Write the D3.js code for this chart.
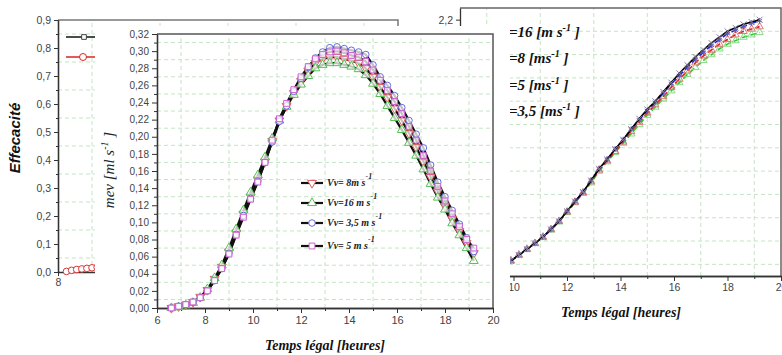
<!DOCTYPE html>
<html>
<head>
<meta charset="utf-8">
<script src="https://cdn.jsdelivr.net/npm/d3@7"></script>
<style>
body { margin: 0; background: #fff; }
svg { display: block; font-family: Arial, "Liberation Sans", sans-serif; }
</style>
</head>
<body>
<svg width="782" height="355"></svg>
<script>
// ---- back chart (Effecacité) ----
const leftTimes = [8.25, 8.4, 8.55, 8.7, 8.85, 9.0, 9.15];
const leftEff = [0.002, 0.006, 0.009, 0.011, 0.013, 0.015, 0.017];
const leftYTicks = [0, 0.1, 0.2, 0.3, 0.4, 0.5, 0.6, 0.7, 0.8, 0.9];
const leftXTicks = [8, 10, 12, 14, 16, 18];

// ---- middle chart (mev) ----
const midTimes = [6.6, 6.9, 7.2, 7.5, 7.8, 8.1, 8.4, 8.7, 9.0, 9.3, 9.6, 9.9, 10.2, 10.5, 10.8, 11.1, 11.4, 11.7, 12.0, 12.3,
  12.6, 12.9, 13.2, 13.5, 13.8, 14.1, 14.4, 14.7, 15.0, 15.3, 15.6, 15.9, 16.2, 16.5, 16.8, 17.1, 17.4, 17.7, 18.0, 18.3, 18.6, 18.9, 19.2];
const midV8 = [0.000, 0.002, 0.004, 0.007, 0.013, 0.021, 0.034, 0.048, 0.066, 0.088, 0.110, 0.130, 0.150, 0.171, 0.195, 0.219, 0.236, 0.251, 0.265, 0.277,
  0.286, 0.291, 0.293, 0.293, 0.291, 0.289, 0.286, 0.280, 0.270, 0.258, 0.246, 0.233, 0.219, 0.204, 0.188, 0.171, 0.153, 0.136, 0.119, 0.104, 0.090, 0.076, 0.064];
const midV16 = [0.000, 0.001, 0.003, 0.006, 0.012, 0.022, 0.035, 0.050, 0.070, 0.092, 0.114, 0.135, 0.155, 0.176, 0.198, 0.219, 0.235, 0.249, 0.261, 0.271,
  0.280, 0.284, 0.286, 0.286, 0.284, 0.282, 0.279, 0.272, 0.262, 0.250, 0.236, 0.222, 0.208, 0.193, 0.178, 0.162, 0.145, 0.129, 0.115, 0.099, 0.085, 0.070, 0.055];
const midV35 = [0.000, 0.002, 0.004, 0.007, 0.012, 0.020, 0.032, 0.046, 0.064, 0.086, 0.108, 0.128, 0.148, 0.170, 0.194, 0.218, 0.236, 0.253, 0.268, 0.281,
  0.292, 0.299, 0.304, 0.305, 0.303, 0.301, 0.299, 0.296, 0.284, 0.270, 0.260, 0.248, 0.234, 0.219, 0.203, 0.187, 0.167, 0.147, 0.130, 0.114, 0.098, 0.082, 0.066];
const midV5 = [0.000, 0.002, 0.004, 0.007, 0.012, 0.020, 0.032, 0.046, 0.063, 0.085, 0.106, 0.127, 0.147, 0.170, 0.196, 0.221, 0.239, 0.255, 0.270, 0.282,
  0.291, 0.296, 0.299, 0.300, 0.298, 0.295, 0.293, 0.288, 0.278, 0.266, 0.254, 0.241, 0.227, 0.212, 0.196, 0.178, 0.160, 0.142, 0.125, 0.110, 0.095, 0.080, 0.070];
const midLegend = ["Vv= 8m s", "Vv=16 m s", "Vv= 3,5 m s", "Vv= 5 m s"];
const midYTicks = [0, 0.02, 0.04, 0.06, 0.08, 0.10, 0.12, 0.14, 0.16, 0.18, 0.20, 0.22, 0.24, 0.26, 0.28, 0.30, 0.32];
const midXTicks = [6, 8, 10, 12, 14, 16, 18, 20];

// ---- right chart ----
const rightTimes = [9.9, 10.2, 10.5, 10.8, 11.1, 11.4, 11.7, 12.0, 12.3, 12.6, 12.9, 13.2, 13.5, 13.8, 14.1, 14.4,
  14.7, 15.0, 15.3, 15.6, 15.9, 16.2, 16.5, 16.8, 17.1, 17.4, 17.7, 18.0, 18.3, 18.6, 18.9, 19.2];
const rightV16 = [0.13, 0.18, 0.23, 0.28, 0.335, 0.40, 0.47, 0.555, 0.64, 0.72, 0.82, 0.92, 1.00, 1.09, 1.17, 1.26,
  1.35, 1.43, 1.50, 1.58, 1.66, 1.74, 1.81, 1.88, 1.94, 2.00, 2.05, 2.10, 2.13, 2.16, 2.18, 2.20];
const rightV8 = [0.13, 0.18, 0.23, 0.28, 0.335, 0.40, 0.47, 0.555, 0.64, 0.72, 0.82, 0.92, 1.00, 1.09, 1.17, 1.26,
  1.34, 1.42, 1.49, 1.57, 1.65, 1.72, 1.79, 1.86, 1.92, 1.98, 2.03, 2.08, 2.11, 2.14, 2.17, 2.19];
const rightV5 = [0.13, 0.18, 0.23, 0.28, 0.335, 0.40, 0.47, 0.55, 0.635, 0.715, 0.81, 0.91, 0.99, 1.07, 1.15, 1.24,
  1.32, 1.40, 1.47, 1.54, 1.62, 1.69, 1.76, 1.83, 1.89, 1.94, 1.99, 2.03, 2.07, 2.10, 2.12, 2.14];
const rightV35 = [0.13, 0.18, 0.23, 0.28, 0.33, 0.395, 0.465, 0.545, 0.63, 0.71, 0.80, 0.90, 0.98, 1.06, 1.14, 1.22,
  1.30, 1.38, 1.45, 1.52, 1.59, 1.66, 1.73, 1.79, 1.85, 1.90, 1.95, 1.99, 2.02, 2.05, 2.07, 2.09];
const rightLegend = ["=16 [m s", "=8 [ms", "=5 [ms", "=3,5 [ms"];
const rightYTicks = [0, 0.2, 0.4, 0.6, 0.8, 1.0, 1.2, 1.4, 1.6, 1.8, 2.0, 2.2];
const rightXTicks = [8, 10, 12, 14, 16, 18, 20];

const svg = d3.select("svg");
const loc = d3.formatLocale({ decimal: ",", thousands: " ", grouping: [3], currency: ["", ""] });
const f1 = loc.format(".1f"), f2 = loc.format(".2f");
const gridColor = "#c4e4c4";
const serif = "Liberation Serif, DejaVu Serif, serif";

// dashed grid + axis helper
function drawGrid(g, x, y, xs, ys) {
    g.selectAll(null).data(xs).enter().append("line")
        .attr("x1", d => x(d)).attr("x2", d => x(d))
        .attr("y1", y.range()[0]).attr("y2", y.range()[1])
        .attr("stroke", gridColor).attr("stroke-dasharray", "4,3");
    g.selectAll(null).data(ys).enter().append("line")
        .attr("y1", d => y(d)).attr("y2", d => y(d))
        .attr("x1", x.range()[0]).attr("x2", x.range()[1])
        .attr("stroke", gridColor).attr("stroke-dasharray", "4,3");
}
function styleAxis(sel, fs) {
    sel.select(".domain").attr("stroke", "#333").attr("stroke-width", 1.3);
    sel.selectAll(".tick line").attr("stroke", "#333");
    sel.selectAll(".tick text").attr("fill", "#444").attr("font-size", fs);
}
function odd(ticks) {
    const out = [];
    for (let i = 0; i < ticks.length - 1; i++) out.push((ticks[i] + ticks[i + 1]) / 2);
    return out;
}
function serifText(sel, size, bold) {
    return sel.style("font-family", serif).style("font-size", size + "px")
        .style("font-style", "italic").style("font-weight", bold ? "bold" : "normal");
}

// =============== BACK CHART ===============
const xL = d3.scaleLinear().domain([8, 18]).range([58, 398]);
const yL = d3.scaleLinear().domain([0, 0.9]).range([272, 20]);
const gL = svg.append("g");
drawGrid(gL, xL, yL, odd(leftXTicks), odd(leftYTicks));
gL.append("path").attr("d", `M${xL(8)},${yL(0.9)}H${xL(18)}V${yL(0)}`)
    .attr("fill", "none").attr("stroke", "#777").attr("stroke-width", 1.5);
gL.append("g").attr("transform", `translate(0,${yL(0)})`)
    .call(d3.axisBottom(xL).tickValues(leftXTicks).tickFormat(d3.format("d")).tickSize(4).tickSizeOuter(0))
    .call(s => styleAxis(s, "10.5px"));
gL.append("g").attr("transform", `translate(${xL(8)},0)`)
    .call(d3.axisLeft(yL).tickValues(odd(leftYTicks)).tickFormat("").tickSize(2).tickSizeOuter(0))
    .call(s => styleAxis(s, "10px"));
gL.append("g").attr("transform", `translate(${xL(8)},0)`)
    .call(d3.axisLeft(yL).tickValues(leftYTicks).tickFormat(f1).tickSize(4).tickSizeOuter(0))
    .call(s => styleAxis(s, "10.5px"));
gL.append("path")
    .datum(leftTimes.map((t, i) => [t, leftEff[i]]))
    .attr("d", d3.line().x(d => xL(d[0])).y(d => yL(d[1])))
    .attr("fill", "none").attr("stroke", "#d22").attr("stroke-width", 1.2);
gL.selectAll(null).data(leftTimes).enter().append("circle")
    .attr("cx", d => xL(d)).attr("cy", (d, i) => yL(leftEff[i])).attr("r", 3.3)
    .attr("fill", "#fff").attr("stroke", "#d33").attr("stroke-width", 1);
// back legend
gL.append("line").attr("x1", 66).attr("x2", 100).attr("y1", 37).attr("y2", 37).attr("stroke", "#111").attr("stroke-width", 1.6);
gL.append("path").attr("d", d3.symbol(d3.symbolSquare, 22)()).attr("transform", "translate(84,37)")
    .attr("fill", "#fff").attr("stroke", "#444");
gL.append("line").attr("x1", 66).attr("x2", 100).attr("y1", 57).attr("y2", 57).attr("stroke", "#d22").attr("stroke-width", 1.6);
gL.append("circle").attr("cx", 83).attr("cy", 57).attr("r", 3.5).attr("fill", "#fff").attr("stroke", "#d22");
svg.append("text").attr("transform", "translate(20,138) rotate(-90)")
    .attr("text-anchor", "middle").attr("font-size", "15px").attr("font-weight", "bold").attr("font-style", "italic")
    .attr("fill", "#111").text("Effecacité");

// =============== RIGHT CHART ===============
const xR = d3.scaleLinear().domain([8, 20]).range([460, 781]);
const yR = d3.scaleLinear().domain([0, 2.3]).range([276, 8]);
const gR = svg.append("g");
drawGrid(gR, xR, yR, odd(rightXTicks), odd(rightYTicks));
gR.append("path").attr("d", `M${xR(8)},${yR(2.3)}H${xR(20)}V${yR(0)}`)
    .attr("fill", "none").attr("stroke", "#666").attr("stroke-width", 1.5);
gR.append("g").attr("transform", `translate(0,${yR(0)})`)
    .call(d3.axisBottom(xR).tickValues(odd(rightXTicks)).tickFormat("").tickSize(3).tickSizeOuter(0))
    .call(s => styleAxis(s, "10px"));
gR.append("g").attr("transform", `translate(0,${yR(0)})`)
    .call(d3.axisBottom(xR).tickValues(rightXTicks).tickFormat(d3.format("d")).tickSize(5).tickSizeOuter(0))
    .call(s => styleAxis(s, "10.5px"));
gR.append("g").attr("transform", `translate(${xR(8)},0)`)
    .call(d3.axisLeft(yR).tickValues(rightYTicks).tickFormat(f1).tickSize(4).tickSizeOuter(0))
    .call(s => styleAxis(s, "10.5px"));

const rightSeries = [
    { v: rightV35, color: "#22cc22", dash: "6,3", sym: d3.symbolTriangle, mk: "#8ad88a", rot: 0 },
    { v: rightV5, color: "#dd2222", dash: "6,3", sym: d3.symbolTriangle, mk: "#e07878", rot: 0 },
    { v: rightV8, color: "#2222dd", dash: "7,3", sym: d3.symbolAsterisk || d3.symbolCross, mk: "#5b5bd0", rot: 0 },
    { v: rightV16, color: "#000", dash: null, sym: d3.symbolTimes || d3.symbolCross, mk: "#8a80a8", rot: d3.symbolTimes ? 0 : 45 }
];
const lineR = d3.line().x(d => xR(d[0])).y(d => yR(d[1]));
rightSeries.forEach(s => {
    const pts = rightTimes.map((t, i) => [t, s.v[i]]);
    gR.append("path").datum(pts).attr("d", lineR)
        .attr("fill", "none").attr("stroke", s.color).attr("stroke-width", 1.6)
        .attr("stroke-dasharray", s.dash);
    gR.selectAll(null).data(pts).enter().append("path")
        .attr("d", d3.symbol(s.sym, 24))
        .attr("transform", d => `translate(${xR(d[0])},${yR(d[1])}) rotate(${s.rot})`)
        .attr("fill", "none").attr("stroke", s.mk).attr("stroke-width", 1);
});
rightLegend.forEach((lab, i) => {
    const t = serifText(gR.append("text").attr("x", 509).attr("y", [37, 63, 90, 116][i]), 15, true).attr("fill", "#111");
    t.append("tspan").text(lab);
    t.append("tspan").attr("dy", -6).style("font-size", "10px").text("-1");
    t.append("tspan").attr("dy", 6).text(" ]");
});
serifText(gR.append("text").attr("x", 621).attr("y", 317).attr("text-anchor", "middle"), 14, true)
    .attr("fill", "#111").text("Temps légal [heures]");

// =============== MIDDLE CHART (on top) ===============
svg.append("rect").attr("x", 95).attr("y", 26).attr("width", 415).attr("height", 329).attr("fill", "#fff");
const xM = d3.scaleLinear().domain([6, 20]).range([157, 493]);
const yM = d3.scaleLinear().domain([0, 0.32]).range([308, 34]);
const gM = svg.append("g");
drawGrid(gM, xM, yM, odd(midXTicks), odd(midYTicks));
gM.append("path").attr("d", `M${xM(6)},${yM(0.32)}H${xM(20)}V${yM(0)}`)
    .attr("fill", "none").attr("stroke", "#555").attr("stroke-width", 1.5);
gM.append("g").attr("transform", `translate(0,${yM(0)})`)
    .call(d3.axisBottom(xM).tickValues(odd(midXTicks)).tickFormat("").tickSize(3).tickSizeOuter(0))
    .call(s => styleAxis(s, "10px"));
gM.append("g").attr("transform", `translate(0,${yM(0)})`)
    .call(d3.axisBottom(xM).tickValues(midXTicks).tickFormat(d3.format("d")).tickSize(5).tickSizeOuter(0))
    .call(s => styleAxis(s, "11px"));
gM.append("g").attr("transform", `translate(${xM(6)},0)`)
    .call(d3.axisLeft(yM).tickValues(odd(midYTicks)).tickFormat("").tickSize(3).tickSizeOuter(0))
    .call(s => styleAxis(s, "10px"));
gM.append("g").attr("transform", `translate(${xM(6)},0)`)
    .call(d3.axisLeft(yM).tickValues(midYTicks).tickFormat(f2).tickSize(5).tickSizeOuter(0))
    .call(s => styleAxis(s, "10px"));

const midSeries = [
    { v: midV8, sym: d3.symbolTriangle, rot: 180, col: "#e06060" },
    { v: midV16, sym: d3.symbolTriangle, rot: 0, col: "#55c055" },
    { v: midV35, sym: d3.symbolCircle, rot: 0, col: "#6a6ae0" },
    { v: midV5, sym: d3.symbolSquare, rot: 0, col: "#d060d0" }
];
const lineM = d3.line().x(d => xM(d[0])).y(d => yM(d[1]));
midSeries.forEach(s => {
    gM.append("path").datum(midTimes.map((t, i) => [t, s.v[i]])).attr("d", lineM)
        .attr("fill", "none").attr("stroke", "#111").attr("stroke-width", 2.2);
});
midSeries.forEach(s => {
    gM.selectAll(null).data(midTimes.map((t, i) => [t, s.v[i]])).enter().append("path")
        .attr("d", d3.symbol(s.sym, 34))
        .attr("transform", d => `translate(${xM(d[0])},${yM(d[1])}) rotate(${s.rot})`)
        .attr("fill", "#fff").attr("fill-opacity", 0.75).attr("stroke", s.col).attr("stroke-width", 1);
});
midLegend.forEach((lab, i) => {
    const yy = [183, 203, 223, 246][i];
    const s = midSeries[i];
    gM.append("line").attr("x1", 301).attr("x2", 323).attr("y1", yy).attr("y2", yy).attr("stroke", "#111").attr("stroke-width", 2.2);
    gM.append("path").attr("d", d3.symbol(s.sym, 34)).attr("transform", `translate(312,${yy}) rotate(${s.rot})`)
        .attr("fill", "#fff").attr("stroke", s.col);
    const t = serifText(gM.append("text").attr("x", 327).attr("y", yy + 3), 10, true).attr("fill", "#222");
    t.append("tspan").text(lab);
    t.append("tspan").attr("dy", -7).style("font-size", "8px").text("-1");
});
const yl = serifText(svg.append("text").attr("transform", "translate(114,170) rotate(-90)").attr("text-anchor", "middle"), 15, false)
    .attr("fill", "#222");
yl.append("tspan").text("mev [ml s");
yl.append("tspan").attr("dy", -6).style("font-size", "10px").text("-1");
yl.append("tspan").attr("dy", 6).text(" ]");
serifText(svg.append("text").attr("x", 325).attr("y", 350).attr("text-anchor", "middle"), 14, true)
    .attr("fill", "#111").text("Temps légal [heures]");
</script>
</body>
</html>
